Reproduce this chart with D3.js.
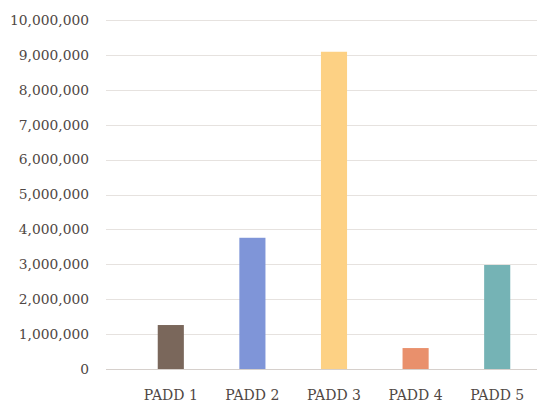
<!DOCTYPE html>
<html>
<head>
<meta charset="utf-8">
<script src="https://cdn.jsdelivr.net/npm/d3@7"></script>
<style>
  body { margin: 0; background: #fff; }
  svg text { font-family: "DejaVu Serif", serif; fill: #4f4744; }
</style>
</head>
<body>
<div class="chart"></div>
<script>
// values
const categories = ["PADD 1", "PADD 2", "PADD 3", "PADD 4", "PADD 5"];
const values = [1260000, 3760000, 9090000, 600000, 2980000];
const barColors = ["#7a675b", "#7f95d8", "#fdd184", "#e9906c", "#75b3b5"];
const yTicks = d3.range(0, 10000001, 1000000);

const width = 537, height = 406;
const gridLeft = 106, plotRight = 538;

const svg = d3.select(".chart")
  .append("svg")
  .attr("width", width)
  .attr("height", height);

const x = d3.scaleBand()
  .domain(categories)
  .range([130, plotRight])
  .paddingInner(0.68)
  .paddingOuter(0.34);

const y = d3.scaleLinear()
  .domain([0, 10000000])
  .range([369, 20]);

// gridlines
svg.append("g")
  .selectAll("line")
  .data(yTicks)
  .join("line")
  .attr("x1", gridLeft)
  .attr("x2", width)
  .attr("y1", d => Math.round(y(d)) + 0.5)
  .attr("y2", d => Math.round(y(d)) + 0.5)
  .attr("stroke", d => d === 0 ? "#d6d0cc" : "#e6e2df")
  .attr("stroke-width", 1);

// y tick labels
const fmt = d3.format(",");
svg.append("g")
  .selectAll("text")
  .data(yTicks)
  .join("text")
  .attr("x", 89)
  .attr("y", d => y(d))
  .attr("dy", "0.35em")
  .attr("text-anchor", "end")
  .attr("font-size", 13.8)
  .text(d => fmt(d));

// bars
svg.append("g")
  .selectAll("rect")
  .data(values)
  .join("rect")
  .attr("x", (d, i) => x(categories[i]))
  .attr("width", x.bandwidth())
  .attr("y", d => y(d))
  .attr("height", d => y(0) - y(d))
  .attr("fill", (d, i) => barColors[i]);

// category labels
svg.append("g")
  .selectAll("text")
  .data(categories)
  .join("text")
  .attr("x", d => x(d) + x.bandwidth() / 2)
  .attr("y", 400)
  .attr("text-anchor", "middle")
  .attr("font-size", 14)
  .text(d => d);
</script>
</body>
</html>
